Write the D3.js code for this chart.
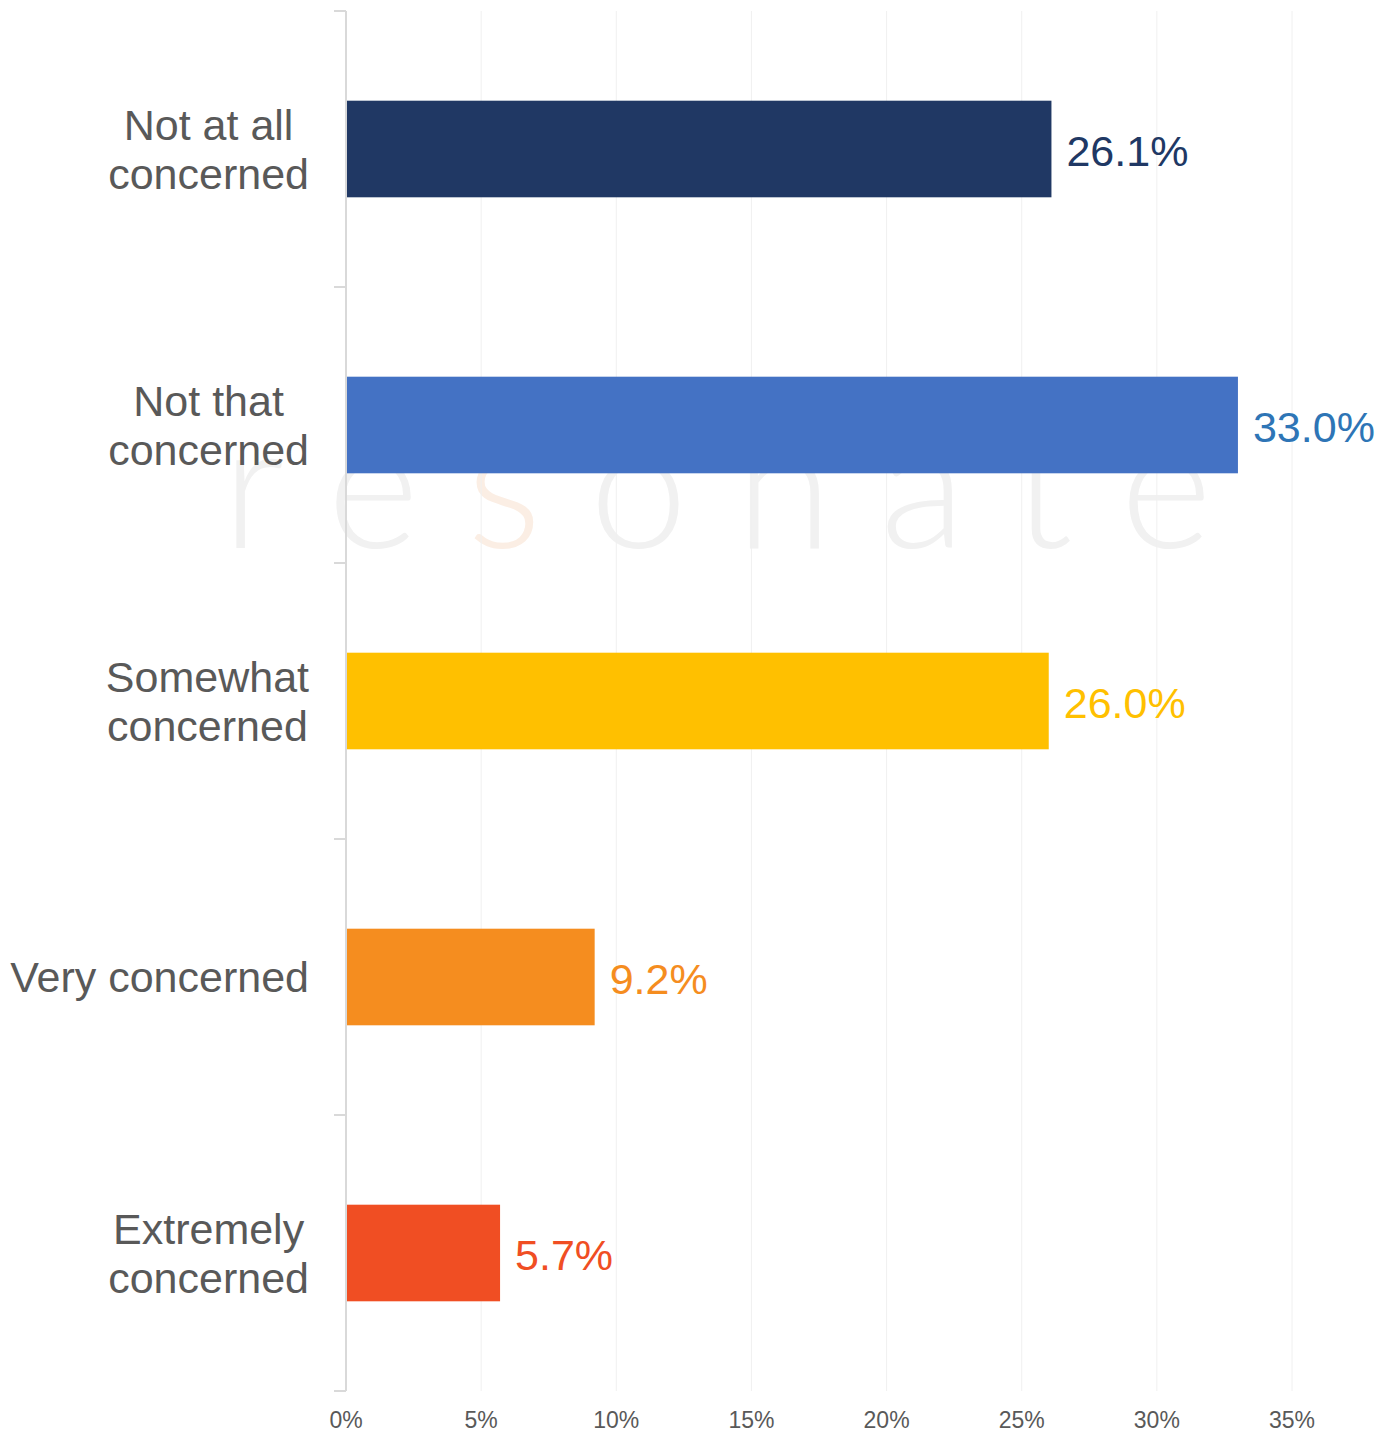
<!DOCTYPE html>
<html>
<head>
<meta charset="utf-8">
<script src="https://cdn.jsdelivr.net/npm/d3@7/dist/d3.min.js"></script>
<style>
  html, body { margin: 0; padding: 0; background: #ffffff; }
  svg { display: block; }
</style>
</head>
<body>
<svg id="chart" width="1386" height="1432"></svg>
<script>
// Level of concern — share of respondents
const categories = [
  ["Not at all", "concerned"],
  ["Not that", "concerned"],
  ["Somewhat", "concerned"],
  ["Very concerned"],
  ["Extremely", "concerned"]
];
const values = [26.1, 33.0, 26.0, 9.2, 5.7];
const valueLabels = ["26.1%", "33.0%", "26.0%", "9.2%", "5.7%"];
const barColors = ["#203864", "#4472c4", "#ffc000", "#f58d1f", "#f04e23"];
const labelColors = ["#203864", "#2e75b6", "#ffc000", "#f58d1f", "#f04e23"];
const xTicks = [0, 5, 10, 15, 20, 25, 30, 35];
const xTickLabels = ["0%", "5%", "10%", "15%", "20%", "25%", "30%", "35%"];

(function () {
  const svg = d3.select("#chart");
  const FONT = "Liberation Sans, Arial, Helvetica, sans-serif";

  const plotLeft = 346, plotRight = 1292, plotTop = 11, plotBottom = 1391;

  const x = d3.scaleLinear().domain([0, 35]).range([plotLeft, plotRight]);
  const keys = categories.map(c => c.join(" "));
  const y = d3.scaleBand().domain(keys).range([plotTop, plotBottom])
    .paddingInner(0.65).paddingOuter(0.325);

  // faint brand watermark behind the plot
  const wm = svg.append("text")
    .attr("x", 222).attr("y", 548)
    .attr("textLength", 990).attr("lengthAdjust", "spacing")
    .style("font-family", "Lato, 'Open Sans', sans-serif")
    .style("font-weight", 300)
    .style("font-size", "176px")
    .style("fill", "#f1f1f1");
  wm.append("tspan").text("re");
  wm.append("tspan").style("fill", "#fbeee4").text("s");
  wm.append("tspan").text("onate");

  // vertical gridlines
  svg.append("g").selectAll("line").data(xTicks.slice(1)).join("line")
    .attr("x1", d => x(d)).attr("x2", d => x(d))
    .attr("y1", plotTop).attr("y2", plotBottom)
    .attr("stroke", "#f0f0f0").attr("stroke-width", 1);

  // bars
  svg.append("g").selectAll("rect").data(values).join("rect")
    .attr("x", x(0))
    .attr("y", (d, i) => y(keys[i]))
    .attr("width", d => x(d) - x(0))
    .attr("height", y.bandwidth())
    .attr("fill", (d, i) => barColors[i]);

  // category axis line and tick marks
  const step = y.step();
  svg.append("line")
    .attr("x1", plotLeft).attr("x2", plotLeft).attr("y1", plotTop).attr("y2", plotBottom)
    .attr("stroke", "#d9d9d9").attr("stroke-width", 2);
  const tickYs = d3.range(categories.length + 1).map(i => plotTop + i * step);
  svg.append("g").selectAll("line").data(tickYs).join("line")
    .attr("x1", plotLeft - 12).attr("x2", plotLeft)
    .attr("y1", d => d).attr("y2", d => d)
    .attr("stroke", "#d9d9d9").attr("stroke-width", 2);

  // category labels: lines centred within a block whose right edge is fixed
  const labelRight = 309, lineH = 49, catSize = 43;
  categories.forEach((lines, i) => {
    const cy = y(keys[i]) + y.bandwidth() / 2;
    const g = svg.append("g");
    const texts = lines.map((ln, j) => g.append("text")
      .attr("y", cy - (lines.length - 1) * lineH / 2 + j * lineH + 15)
      .attr("text-anchor", "middle")
      .style("font-family", FONT)
      .style("font-size", catSize + "px")
      .style("fill", "#595959")
      .text(ln));
    const maxW = d3.max(texts, t => t.node().getComputedTextLength());
    texts.forEach(t => t.attr("x", labelRight - maxW / 2));
  });

  // value labels at bar ends
  svg.append("g").selectAll("text").data(values).join("text")
    .attr("x", d => x(d) + 15)
    .attr("y", (d, i) => y(keys[i]) + y.bandwidth() / 2 + 17)
    .style("font-family", FONT)
    .style("font-size", "43px")
    .style("fill", (d, i) => labelColors[i])
    .text((d, i) => valueLabels[i]);

  // percentage axis labels
  svg.append("g").selectAll("text").data(xTicks).join("text")
    .attr("x", d => x(d))
    .attr("y", 1428)
    .attr("text-anchor", "middle")
    .style("font-family", FONT)
    .style("font-size", "23px")
    .style("fill", "#595959")
    .text((d, i) => xTickLabels[i]);
})();
</script>
</body>
</html>
